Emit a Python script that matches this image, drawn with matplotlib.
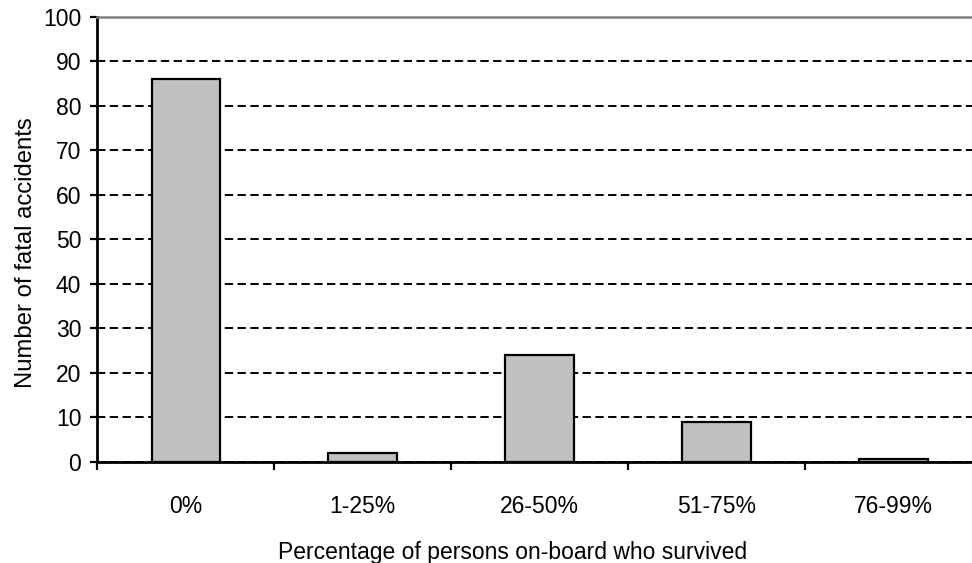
import matplotlib
matplotlib.use("Agg")
import matplotlib.pyplot as plt
import numpy as np

plt.rcParams['font.family'] = ['Liberation Sans', 'DejaVu Sans']
plt.rcParams['lines.scale_dashes'] = False

# ---------------- data
categories = ["0%", "1-25%", "26-50%", "51-75%", "76-99%"]
accidents = [86, 2, 24, 9, 0.5]
y_ticks = [0, 10, 20, 30, 40, 50, 60, 70, 80, 90, 100]

fs = 16.5

fig = plt.figure(figsize=(9.72, 5.63), dpi=100)
ax = fig.add_axes([0.1001, 0.1799, 0.9102, 0.7904])

x = np.arange(len(categories))
ax.bar(x, accidents, width=0.387, color="#c0c0c0", edgecolor="black",
       linewidth=1.6, zorder=2)

ax.set_xlim(-0.5, len(categories) - 0.5)
ax.set_ylim(0, 100)

# category labels at the centres, tick marks on the boundaries
ax.set_xticks(x)
ax.set_xticklabels(categories, fontsize=fs)
ax.set_xticks(np.arange(len(categories)) - 0.5, minor=True)
ax.tick_params(axis="x", which="major", length=0, pad=24)
ax.tick_params(axis="x", which="minor", length=5.5, width=1.6,
               direction="out", color="black")

ax.set_yticks(y_ticks)
ax.set_yticklabels([str(v) for v in y_ticks], fontsize=fs)
ax.tick_params(axis="y", length=5, width=1.6, direction="out", pad=6.5)

# dashed gridlines
ax.set_axisbelow(True)
ax.yaxis.grid(True, color="black", linewidth=1.4, linestyle=(0, (6, 3.2)))

for side in ["left", "bottom"]:
    ax.spines[side].set_linewidth(2.0)
    ax.spines[side].set_color("black")
ax.spines["top"].set_color("#808080")
ax.spines["top"].set_linewidth(1.8)
ax.spines["right"].set_visible(False)

fig.text(513 / 972, 1 - 559.3 / 563, "Percentage of persons on-board who survived",
         ha="center", va="baseline", fontsize=fs)
fig.text(32 / 972, 1 - 253 / 563, "Number of fatal accidents",
         rotation=90, rotation_mode="anchor", ha="center", va="baseline",
         fontsize=17.2)

fig.savefig("out.png", dpi=100)
